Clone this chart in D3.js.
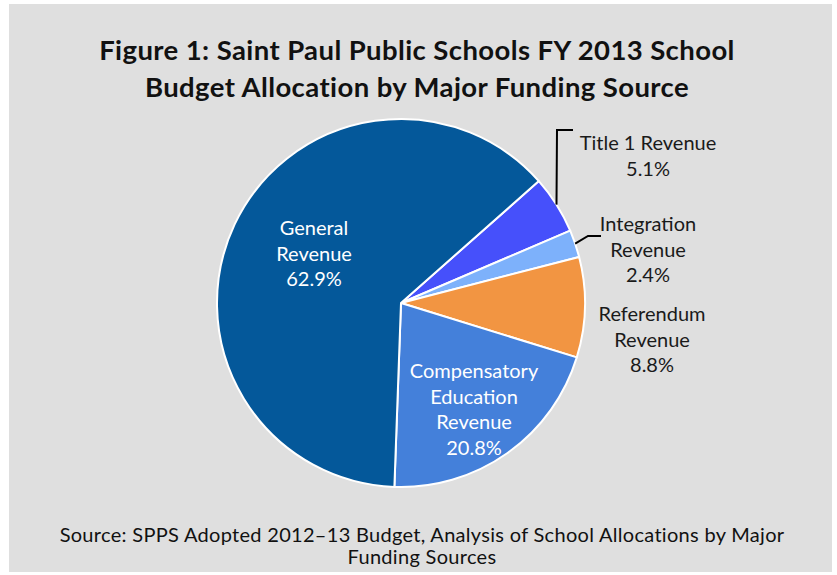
<!DOCTYPE html>
<html>
<head>
<meta charset="utf-8">
<script src="https://cdn.jsdelivr.net/npm/d3@7"></script>
<style>
  html, body { margin: 0; padding: 0; background: #fff; }
  svg text { font-family: Lato, "Open Sans", sans-serif; }
</style>
</head>
<body>
<svg id="chart"></svg>
<script>
// slices, clockwise from the upper right
const sources = ['Title 1 Revenue', 'Integration Revenue', 'Referendum Revenue', 'Compensatory Education Revenue', 'General Revenue']
const shares = [5.1, 2.4, 8.8, 20.8, 62.9]
const labelLines = [
  ['Title 1 Revenue'],
  ['Integration', 'Revenue'],
  ['Referendum', 'Revenue'],
  ['Compensatory', 'Education', 'Revenue'],
  ['General', 'Revenue']
]
const colors = ['#4650fb', '#7db1fb', '#f29542', '#4480da', '#04589a']
const titleLines = ['Figure 1: Saint Paul Public Schools FY 2013 School', 'Budget Allocation by Major Funding Source']
const sourceLines = ['Source: SPPS Adopted 2012\u201313 Budget, Analysis of School Allocations by Major', 'Funding Sources']

const width = 837
const height = 575
const cx = 401
const cy = 303
const radius = 184

// label placement relative to pie centre (first line centre)
const labelPos = [
  { x: 247, y: -160, inside: false },
  { x: 247, y: -79, inside: false },
  { x: 251, y: 11, inside: false },
  { x: 73, y: 68, inside: true },
  { x: -87, y: -75, inside: true }
]
const lineGap = 25.5

const svg = d3.select('#chart')
  .attr('width', width)
  .attr('height', height)

svg.append('rect')
  .attr('x', 9)
  .attr('y', 4)
  .attr('width', 823)
  .attr('height', 568)
  .attr('fill', '#dfdfdf')

svg.selectAll('text.title')
  .data(titleLines)
  .enter().append('text')
  .attr('class', 'title')
  .attr('x', 417)
  .attr('y', (d, i) => 60 + i * 37)
  .attr('text-anchor', 'middle')
  .attr('font-size', 27.5)
  .attr('font-weight', 'bold')
  .attr('letter-spacing', 0.4)
  .attr('fill', '#111')
  .text(d => d)

const pie = d3.pie()
  .sort(null)
  .startAngle(48.5 * Math.PI / 180)
  .endAngle(48.5 * Math.PI / 180 + 2 * Math.PI)

const arc = d3.arc()
  .innerRadius(0)
  .outerRadius(radius)

const arcs = pie(shares)

const g = svg.append('g')
  .attr('transform', 'translate(' + cx + ',' + cy + ')')

g.selectAll('path')
  .data(arcs)
  .enter().append('path')
  .attr('d', arc)
  .attr('fill', (d, i) => colors[i])
  .attr('stroke', '#fff')
  .attr('stroke-width', 2)
  .attr('stroke-linejoin', 'round')

// leader lines for the two thin slices
const edgePoint = d => {
  const a = (d.startAngle + d.endAngle) / 2
  return [Math.sin(a) * radius, -Math.cos(a) * radius]
}
const leaders = [
  [edgePoint(arcs[0]), [156, -173], [172, -173]],
  [edgePoint(arcs[1]), [187, -67], [200, -67]]
]
g.selectAll('path.leader')
  .data(leaders)
  .enter().append('path')
  .attr('class', 'leader')
  .attr('d', d3.line())
  .attr('fill', 'none')
  .attr('stroke', '#000')
  .attr('stroke-width', 2)

const labels = g.selectAll('g.label')
  .data(arcs)
  .enter().append('g')
  .attr('class', 'label')
  .attr('transform', (d, i) => 'translate(' + labelPos[i].x + ',' + labelPos[i].y + ')')

labels.each(function (d, i) {
  const lines = labelLines[i].concat([d3.format('.1f')(d.data) + '%'])
  d3.select(this).selectAll('text')
    .data(lines)
    .enter().append('text')
    .attr('x', 0)
    .attr('y', (t, j) => j * lineGap)
    .attr('dy', '0.35em')
    .attr('text-anchor', 'middle')
    .attr('font-size', 20)
    .attr('fill', labelPos[i].inside ? '#fff' : '#1a1a1a')
    .text(t => t)
})

svg.selectAll('text.source')
  .data(sourceLines)
  .enter().append('text')
  .attr('class', 'source')
  .attr('x', 422)
  .attr('y', (d, i) => 542 + i * 22)
  .attr('text-anchor', 'middle')
  .attr('font-size', 20)
  .attr('letter-spacing', 0.3)
  .attr('fill', '#111')
  .text(d => d)
</script>
</body>
</html>
